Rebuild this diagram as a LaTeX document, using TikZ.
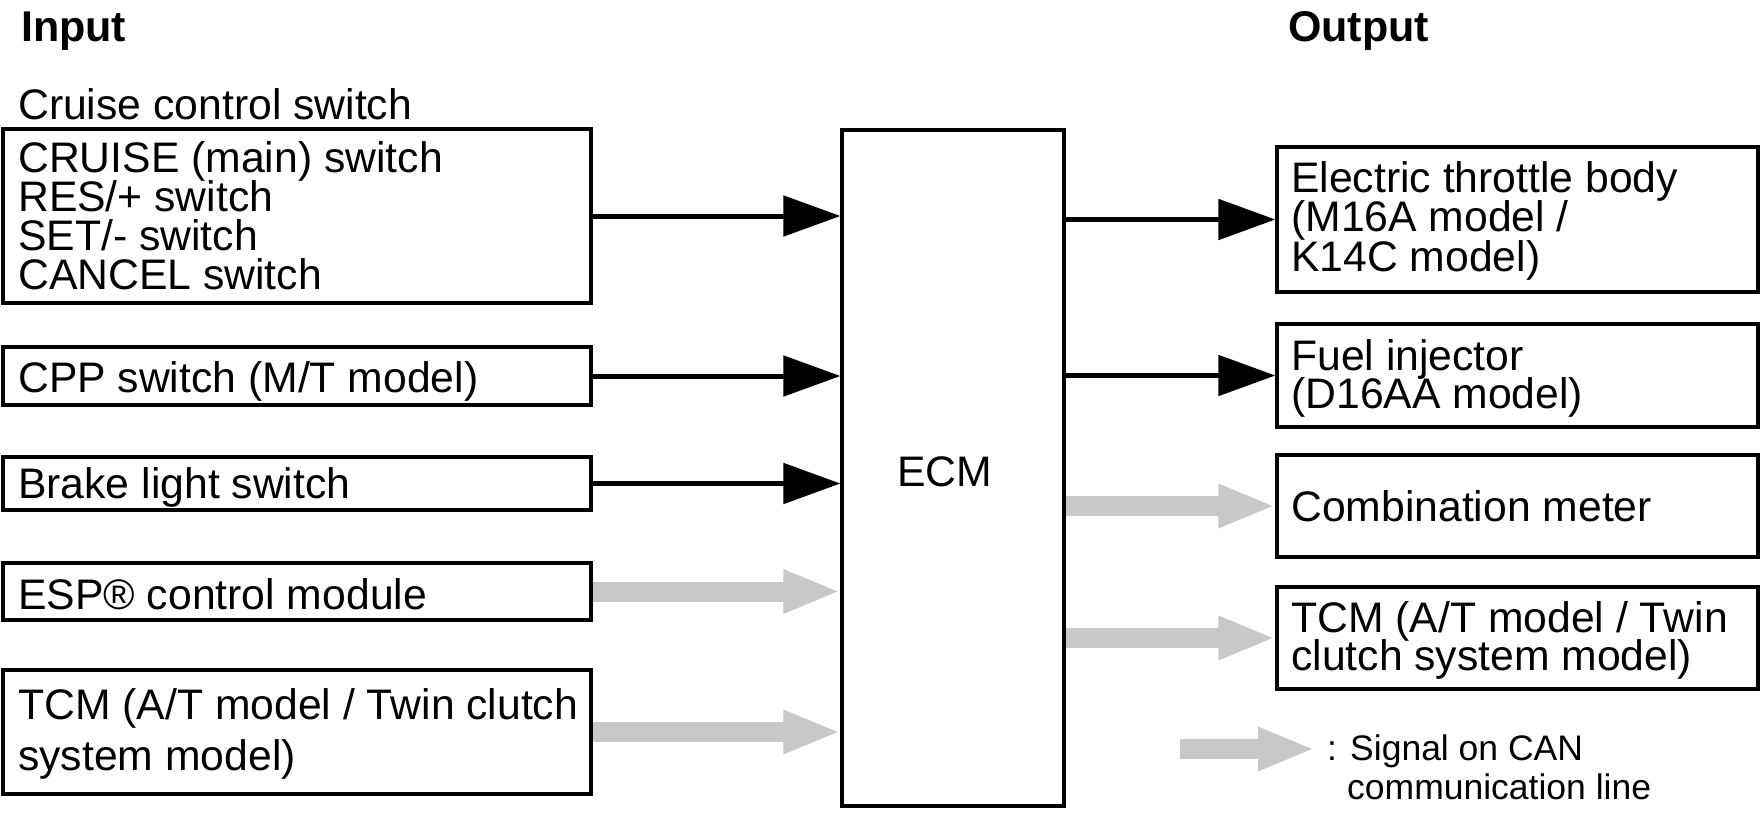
\documentclass[tikz,border=0pt]{standalone}
\usepackage{fontspec}
\setmainfont{Liberation Sans}
\usetikzlibrary{arrows.meta}
\definecolor{cangray}{RGB}{200,200,200}
\newcommand\mytxt{\fontsize{42.7}{46}\selectfont}
\newcommand\mylegtxt{\fontsize{35.5}{39}\selectfont}
\newcommand\myhead{\fontsize{43}{46}\selectfont\bfseries}
\begin{document}
\begin{tikzpicture}[x=1pt,y=-1pt,
  box/.style={draw, rectangle, line width=3.2pt, inner sep=0pt},
  lbox/.style={box, minimum width=588pt},
  rbox/.style={box, minimum width=481pt},
  txt/.style={anchor=base west, inner sep=0pt, font=\mytxt},
  head/.style={anchor=base west, inner sep=0pt, font=\myhead},
  legtxt/.style={anchor=base west, inner sep=0pt, font=\mylegtxt},
  sig/.style={draw=black, line width=5pt, -{Triangle[length=57pt,width=40pt]}},
  can/.style={draw=cangray, line width=20pt, -{Triangle[length=57pt,width=40pt]}}]
\useasboundingbox (0,0) rectangle (1760,814);

% titles
\node[head] (input) at (21,41) {Input};
\node[head] (output) at (1288,41) {Output};

% input boxes
\node[txt] (cruisetitle) at (18,119) {Cruise control switch};
\node[lbox, minimum height=174pt] (cruise) at (297,216) {};
\node[txt] (c1) at (18,172) {CRUISE (main) switch};
\node[txt] (c2) at (18,211) {RES/+ switch};
\node[txt] (c3) at (18,250) {SET/- switch};
\node[txt] (c4) at (18,289) {CANCEL switch};

\node[lbox, minimum height=58pt] (cpp) at (297,376) {};
\node[txt] (cpptxt) at (18,392) {CPP switch (M/T model)};

\node[lbox, minimum height=53pt] (brake) at (297,483.5) {};
\node[txt] (braketxt) at (18,498) {Brake light switch};

\node[lbox, minimum height=57pt] (esp) at (297,591.5) {};
\node[txt] (esptxt) at (18,609) {ESP® control module};

\node[lbox, minimum height=124pt] (tcmin) at (297,732) {};
\node[txt] (tcmin1) at (18,719) {TCM (A/T model / Twin clutch};
\node[txt] (tcmin2) at (18,770) {system model)};

% ECM
\node[box, minimum width=222pt, minimum height=676pt] (ecm) at (953,468) {};
\node[txt] (ecmtxt) at (897,486) {ECM};

% output boxes
\node[rbox, minimum height=145pt] (etb) at (1517.5,219.5) {};
\node[txt] (etb1) at (1291,192) {Electric throttle body};
\node[txt] (etb2) at (1291,231) {(M16A model /};
\node[txt] (etb3) at (1291,271) {K14C model)};

\node[rbox, minimum height=103pt] (fi) at (1517.5,375.5) {};
\node[txt] (fi1) at (1291,370) {Fuel injector};
\node[txt] (fi2) at (1291,408) {(D16AA model)};

\node[rbox, minimum height=102pt] (cm) at (1517.5,506) {};
\node[txt] (cmtxt) at (1291,521) {Combination meter};

\node[rbox, minimum height=102pt] (tcmout) at (1517.5,638) {};
\node[txt] (tcmout1) at (1291,632) {TCM (A/T model / Twin};
\node[txt] (tcmout2) at (1291,670) {clutch system model)};

% input connectors
\draw[sig] (cruise.east) -- (cruise.east -| ecm.west);
\draw[sig] (cpp.east) -- (cpp.east -| ecm.west);
\draw[sig] (brake.east) -- (brake.east -| ecm.west);
\draw[can] (esp.east) -- (esp.east -| ecm.west);
\draw[can] (tcmin.east) -- (tcmin.east -| ecm.west);

% output connectors
\draw[sig] (ecm.east |- etb.west) -- (etb.west);
\draw[sig] (ecm.east |- fi.west) -- (fi.west);
\draw[can] (ecm.east |- cm.west) -- (cm.west);
\draw[can] (ecm.east |- tcmout.west) -- (tcmout.west);

% legend
\coordinate (legA) at (1180,749);
\coordinate (legB) at (1315,749);
\draw[can] (legA) -- (legB);
\node[legtxt] (leg1) at (1327,760) {: Signal on CAN};
\node[legtxt] (leg2) at (1347,799) {communication line};
\end{tikzpicture}
\end{document}
